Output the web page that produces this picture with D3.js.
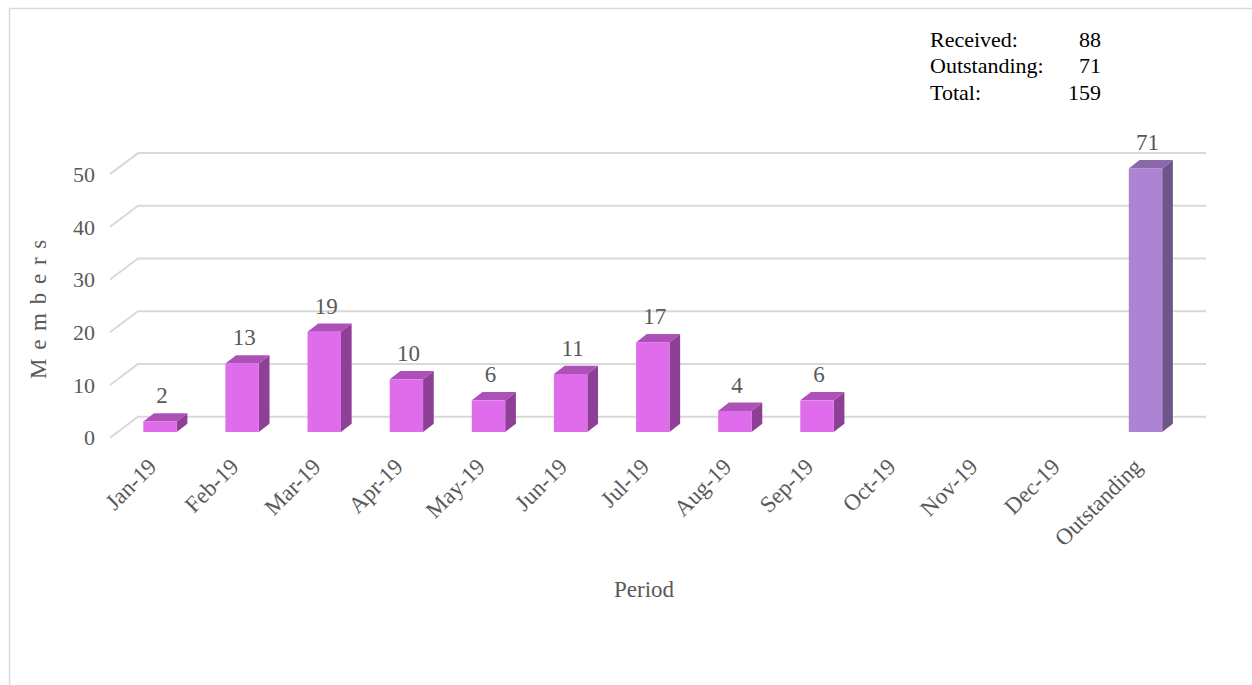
<!DOCTYPE html>
<html>
<head>
<meta charset="utf-8">
<script src="https://cdn.jsdelivr.net/npm/d3@7/dist/d3.min.js"></script>
<style>
body { margin: 0; background: #fff; }
text { font-family: "Liberation Serif", "DejaVu Serif", serif; }
</style>
</head>
<body>
<div id="chart"></div>
<script>
var categories = ["Jan-19", "Feb-19", "Mar-19", "Apr-19", "May-19", "Jun-19", "Jul-19", "Aug-19", "Sep-19", "Oct-19", "Nov-19", "Dec-19", "Outstanding"];
var members = [2, 13, 19, 10, 6, 11, 17, 4, 6, null, null, null, 71];
var yTicks = [0, 10, 20, 30, 40, 50];
var summaryLabels = ["Received:", "Outstanding:", "Total:"];
var summaryValues = [88, 71, 159];

var width = 1252, height = 685;
var depthX = 10.7, depthY = -8.3;   // 3d offset of bar side / top
var barWidth = 33.4;
var yMax = 50;

var svg = d3.select("#chart").append("svg")
  .attr("width", width)
  .attr("height", height);

// chart border
svg.append("rect")
  .attr("x", 9.5).attr("y", 8.5)
  .attr("width", width).attr("height", height)
  .attr("fill", "none")
  .attr("stroke", "#d9d9d9")
  .attr("stroke-width", 1.5);

var x = d3.scalePoint()
  .domain(categories)
  .range([160, 1145.5]);

// front plane of the bars
var y = d3.scaleLinear()
  .domain([0, yMax])
  .range([432, 168.4]);

// back wall of the floor / gridlines
var yBack = function(v) { return y(v) - 15.3; };

// gridlines, with the little 3d floor diagonal on the left
var grid = svg.append("g");
yTicks.forEach(function(t) {
  var yb = yBack(t);
  grid.append("path")
    .attr("d", "M110," + (yb + 21) + "L138," + yb + "L1206," + yb)
    .attr("fill", "none")
    .attr("stroke", "#d9d9d9")
    .attr("stroke-width", 2);
});

svg.selectAll(".ytick")
  .data(yTicks)
  .enter().append("text")
  .attr("class", "ytick")
  .attr("x", 95)
  .attr("y", function(d) { return yBack(d) + 21; })
  .attr("dy", "0.35em")
  .attr("text-anchor", "end")
  .attr("font-size", 22)
  .attr("fill", "#595959")
  .text(function(d) { return d; });

// bars
var colorsFor = function(cat) {
  if (cat === "Outstanding") {
    return { front: "#ad84d3", side: "#6f5689", top: "#8b68a9" };
  }
  return { front: "#df6cea", side: "#8e4096", top: "#ad50b8" };
};

var bars = svg.selectAll(".bar")
  .data(categories.map(function(c, i) { return { cat: c, value: members[i] }; })
    .filter(function(d) { return d.value !== null; }))
  .enter().append("g")
  .attr("class", "bar");

bars.each(function(d) {
  var g = d3.select(this);
  var c = colorsFor(d.cat);
  var x0 = x(d.cat) - barWidth / 2, x1 = x0 + barWidth;
  var yb = y(0), yt = y(Math.min(d.value, yMax));
  // side
  g.append("path")
    .attr("d", "M" + x1 + "," + yb + "L" + (x1 + depthX) + "," + (yb + depthY) +
      "L" + (x1 + depthX) + "," + (yt + depthY) + "L" + x1 + "," + yt + "Z")
    .attr("fill", c.side);
  // top
  g.append("path")
    .attr("d", "M" + x0 + "," + yt + "L" + (x0 + depthX) + "," + (yt + depthY) +
      "L" + (x1 + depthX) + "," + (yt + depthY) + "L" + x1 + "," + yt + "Z")
    .attr("fill", c.top);
  // front
  g.append("rect")
    .attr("x", x0).attr("y", yt)
    .attr("width", barWidth).attr("height", yb - yt)
    .attr("fill", c.front);
  // value label
  g.append("text")
    .attr("x", x(d.cat) + 2)
    .attr("y", yt + depthY - 10)
    .attr("text-anchor", "middle")
    .attr("font-size", 23)
    .attr("fill", "#595959")
    .text(d.value);
});

// category labels
svg.selectAll(".xtick")
  .data(categories)
  .enter().append("text")
  .attr("class", "xtick")
  .attr("text-anchor", "end")
  .attr("transform", function(d) { return "translate(" + (x(d) - 2) + ",468) rotate(-45)"; })
  .attr("font-size", 23)
  .attr("fill", "#595959")
  .text(function(d) { return d; });

// axis titles
svg.append("text")
  .attr("x", 644).attr("y", 597)
  .attr("text-anchor", "middle")
  .attr("font-size", 23)
  .attr("fill", "#595959")
  .text("Period");

svg.append("text")
  .attr("transform", "translate(46,305) rotate(-90)")
  .attr("text-anchor", "middle")
  .attr("font-size", 23)
  .attr("letter-spacing", "0.38em")
  .attr("fill", "#595959")
  .text("Members");

// summary box
var summary = svg.append("g");
summaryLabels.forEach(function(l, i) {
  summary.append("text")
    .attr("x", 930).attr("y", 46.5 + i * 26.6)
    .attr("font-size", 22)
    .attr("fill", "#000")
    .text(l);
  summary.append("text")
    .attr("x", 1101).attr("y", 46.5 + i * 26.6)
    .attr("text-anchor", "end")
    .attr("font-size", 22)
    .attr("fill", "#000")
    .text(summaryValues[i]);
});
</script>
</body>
</html>
